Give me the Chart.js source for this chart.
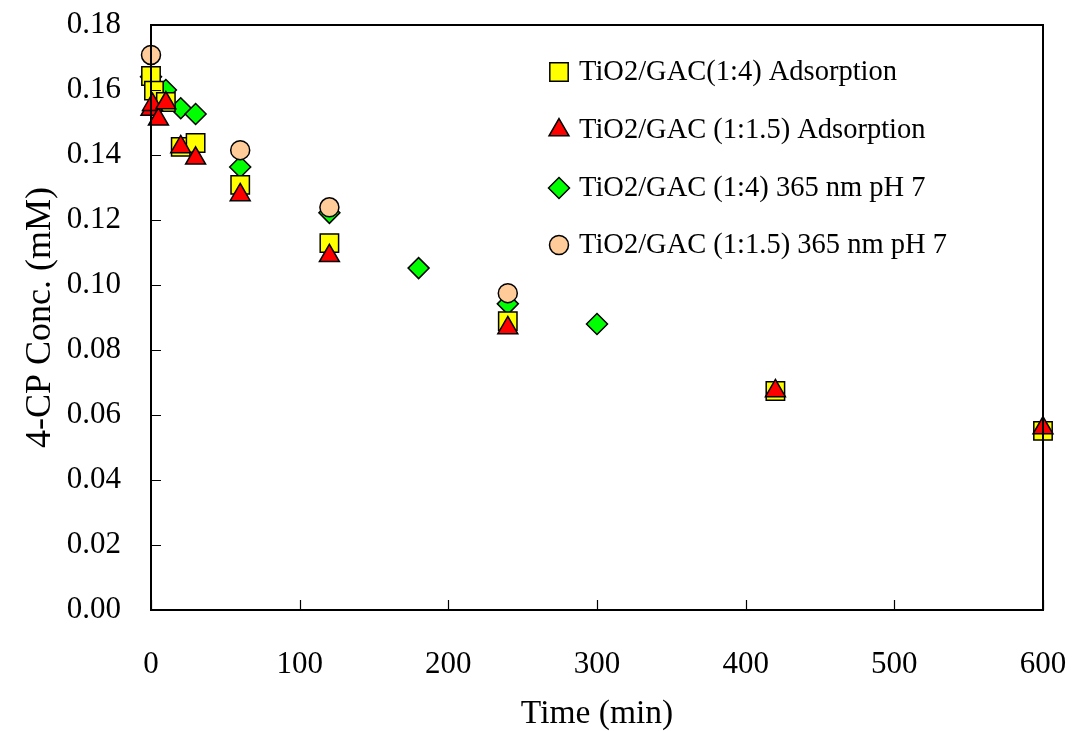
<!DOCTYPE html>
<html>
<head>
<meta charset="utf-8">
<script src="https://cdn.jsdelivr.net/npm/chart.js@4/dist/chart.umd.min.js"></script>
<style>
  html, body { margin: 0; padding: 0; background: #fff; }
  #wrap { width: 1072px; height: 731px; }
</style>
</head>
<body>
<div id="wrap"><canvas id="conc-chart" width="1072" height="731"></canvas></div>
<script>
  // data
  const adsA_t = [0, 2, 10, 20, 30, 60, 120, 240, 420, 600];
  const adsA_c = [0.1643, 0.1598, 0.1563, 0.1425, 0.1437, 0.1308, 0.1129, 0.0889, 0.0674, 0.0551];

  const adsB_t = [0, 1, 5, 10, 20, 30, 60, 120, 240, 420, 600];
  const adsB_c = [0.1540, 0.1555, 0.1510, 0.1560, 0.1425, 0.1390, 0.1277, 0.1090, 0.0868, 0.0674, 0.0560];

  const uvA_t = [0, 10, 20, 30, 60, 120, 180, 240, 300];
  const uvA_c = [0.1641, 0.1600, 0.1544, 0.1526, 0.1363, 0.1222, 0.1052, 0.0942, 0.0880];

  const uvB_t = [0, 60, 120, 240];
  const uvB_c = [0.1708, 0.1415, 0.1239, 0.0975];

  const seriesNames = [
    'TiO2/GAC(1:4) Adsorption',
    'TiO2/GAC (1:1.5) Adsorption',
    'TiO2/GAC (1:4) 365 nm pH 7',
    'TiO2/GAC (1:1.5) 365 nm pH 7'
  ];

  const xTicks = [0, 100, 200, 300, 400, 500, 600];
  const yTicks = [0, 0.02, 0.04, 0.06, 0.08, 0.10, 0.12, 0.14, 0.16, 0.18];

  const serif = "'Liberation Serif', 'Times New Roman', serif";

  function pts(t, c) {
    return t.map((v, i) => ({x: v, y: c[i]}));
  }

  // no extra room for overhanging tick labels, the layout padding decides
  function noPad(scale) {
    scale.paddingTop = 0;
    scale.paddingBottom = 0;
    scale.paddingLeft = 0;
    scale.paddingRight = 0;
  }

  const marks = [
    {style: 'rect', radius: 13, color: '#ffff00'},
    {style: 'triangle', radius: 11.5, color: '#ff0000'},
    {style: 'rectRot', radius: 10.5, color: '#00ff00'},
    {style: 'circle', radius: 9.5, color: '#ffcc99'}
  ];

  // frame + inward ticks, drawn on top of the markers like the original
  const framePlugin = {
    id: 'frame',
    afterDatasetsDraw(chart) {
      const {ctx, chartArea: a, scales: {x, y}} = chart;
      ctx.save();
      ctx.strokeStyle = '#000';
      ctx.lineWidth = 1.2;
      ctx.beginPath();
      y.ticks.forEach(t => {
        const p = Math.round(y.getPixelForValue(t.value)) + 0.5;
        ctx.moveTo(a.left, p);
        ctx.lineTo(a.left + 10, p);
      });
      x.ticks.forEach(t => {
        const p = Math.round(x.getPixelForValue(t.value)) + 0.5;
        ctx.moveTo(p, a.bottom);
        ctx.lineTo(p, a.bottom - 10);
      });
      ctx.stroke();
      ctx.lineWidth = 2;
      ctx.strokeRect(a.left, a.top, a.right - a.left, a.bottom - a.top);
      ctx.restore();
    }
  };

  // legend inside the plot, same look as the points
  const legendPlugin = {
    id: 'insideLegend',
    afterDraw(chart) {
      const ctx = chart.ctx;
      const rows = [72, 130, 188, 245];
      ctx.save();
      ctx.font = "28.5px " + serif;
      ctx.textBaseline = 'middle';
      ctx.textAlign = 'left';
      seriesNames.forEach((name, i) => {
        const m = marks[i];
        ctx.fillStyle = m.color;
        ctx.strokeStyle = '#000';
        ctx.lineWidth = 1.5;
        Chart.helpers.drawPoint(ctx, {pointStyle: m.style, radius: m.radius, rotation: 0, borderWidth: 1.5}, 559, rows[i]);
        ctx.fillStyle = '#000';
        ctx.fillText(name, 579, rows[i] + 1);
      });
      ctx.restore();
    }
  };

  const datasets = [
    {label: seriesNames[0], data: pts(adsA_t, adsA_c), order: 1},
    {label: seriesNames[1], data: pts(adsB_t, adsB_c), order: 0},
    {label: seriesNames[2], data: pts(uvA_t, uvA_c), order: 3},
    {label: seriesNames[3], data: pts(uvB_t, uvB_c), order: 2}
  ].map((d, i) => Object.assign(d, {
    pointStyle: marks[i].style,
    pointRadius: marks[i].radius,
    pointHoverRadius: marks[i].radius,
    backgroundColor: marks[i].color,
    borderColor: '#000',
    pointBorderWidth: 1.5,
    showLine: false,
    clip: false
  }));

  const el = document.getElementById('conc-chart');
  const concChart = new Chart(el, {
    type: 'scatter',
    data: {datasets: datasets},
    plugins: [framePlugin, legendPlugin],
    options: {
      responsive: false,
      animation: false,
      layout: {padding: {top: 25, right: 29, left: 0, bottom: 0}},
      plugins: {
        legend: {display: false},
        tooltip: {enabled: false}
      },
      scales: {
        x: {
          type: 'linear',
          min: 0,
          max: 600,
          afterBuildTicks(scale) { scale.ticks = xTicks.map(v => ({value: v})); },
          afterFit(scale) { scale.height = 121; noPad(scale); },
          grid: {display: false, drawTicks: false},
          border: {display: false},
          ticks: {
            padding: 36,
            color: '#000',
            font: {family: serif, size: 31},
            maxRotation: 0,
            callback: v => String(v)
          },
          title: {
            display: true,
            text: 'Time (min)',
            color: '#000',
            font: {family: serif, size: 33.5, lineHeight: 1},
            padding: {top: 0, bottom: 0}
          }
        },
        y: {
          type: 'linear',
          min: 0,
          max: 0.18,
          afterBuildTicks(scale) { scale.ticks = yTicks.map(v => ({value: v})); },
          afterFit(scale) { scale.width = 151; noPad(scale); },
          grid: {display: false, drawTicks: false},
          border: {display: false},
          ticks: {
            padding: 30,
            color: '#000',
            font: {family: serif, size: 31},
            callback: v => Number(v).toFixed(2)
          },
          title: {
            display: true,
            text: '4-CP Conc. (mM)',
            color: '#000',
            font: {family: serif, size: 36, lineHeight: 1},
            padding: {top: 23, bottom: 0}
          }
        }
      }
    }
  });
</script>
</body>
</html>
